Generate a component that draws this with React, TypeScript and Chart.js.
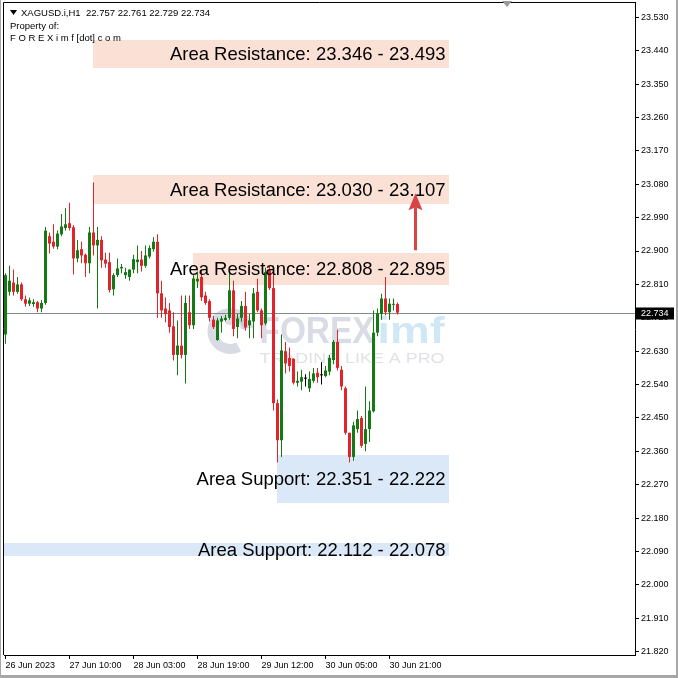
import { useEffect, useRef } from "react";
import { Chart, registerables } from "chart.js";

Chart.register(...registerables);

// ---- Data (XAGUSD.i, H1) ----
const opens = [
  22.675, 22.79, 22.815, 22.79, 22.81, 22.77, 22.758, 22.757, 22.762, 22.745,
  22.76, 22.94, 22.925, 22.912, 22.945, 22.962, 22.975, 22.964, 22.88, 22.905,
  22.89, 22.867, 22.95, 22.915, 22.93, 22.877, 22.87, 22.797, 22.835, 22.853,
  22.835, 22.83, 22.85, 22.87, 22.877, 22.86, 22.885, 22.905, 22.925, 22.786,
  22.745, 22.74, 22.697, 22.62, 22.645, 22.62, 22.735, 22.7, 22.818, 22.83,
  22.78, 22.765, 22.715, 22.66, 22.71, 22.714, 22.72, 22.794, 22.695, 22.72,
  22.752, 22.7, 22.71, 22.79, 22.74, 22.705, 22.848, 22.8, 22.49, 22.39,
  22.63, 22.612, 22.61, 22.545, 22.548, 22.556, 22.53, 22.55, 22.572, 22.565,
  22.563, 22.575, 22.606, 22.655, 22.58, 22.53, 22.41, 22.345, 22.42, 22.45,
  22.38, 22.42, 22.468, 22.68, 22.73, 22.772, 22.735, 22.755, 22.757,
];
const highs = [
  22.84, 22.86, 22.85, 22.83, 22.815, 22.78, 22.775, 22.77, 22.765, 22.768,
  22.965, 22.95, 22.972, 22.955, 23.0, 23.015, 23.03, 22.97, 22.93, 22.925,
  22.893, 22.965, 23.085, 22.965, 22.94, 22.895, 22.895, 22.84, 22.88, 22.865,
  22.855, 22.85, 22.89, 22.915, 22.9, 22.915, 22.915, 22.937, 22.945, 22.82,
  22.775, 22.76, 22.735, 22.713, 22.78, 22.78, 22.78, 22.835, 22.845, 22.85,
  22.79, 22.77, 22.725, 22.72, 22.725, 22.728, 22.848, 22.82, 22.73, 22.765,
  22.79, 22.73, 22.8, 22.825, 22.745, 22.855, 22.86, 22.84, 22.5, 22.675,
  22.655, 22.64, 22.61, 22.575, 22.58, 22.568, 22.575, 22.585, 22.585, 22.6,
  22.59, 22.62, 22.66, 22.688, 22.59, 22.535, 22.41, 22.44, 22.47, 22.455,
  22.535, 22.495, 22.74, 22.745, 22.785, 22.83, 22.772, 22.772, 22.761,
];
const lows = [
  22.65, 22.78, 22.78, 22.785, 22.765, 22.75, 22.752, 22.75, 22.735, 22.735,
  22.755, 22.893, 22.906, 22.905, 22.94, 22.955, 22.955, 22.837, 22.87, 22.867,
  22.83, 22.84, 22.888, 22.745, 22.855, 22.855, 22.788, 22.78, 22.83, 22.84,
  22.825, 22.82, 22.84, 22.84, 22.845, 22.855, 22.88, 22.898, 22.72, 22.72,
  22.708, 22.68, 22.605, 22.565, 22.61, 22.543, 22.69, 22.69, 22.8, 22.765,
  22.755, 22.71, 22.69, 22.658, 22.68, 22.71, 22.715, 22.67, 22.665, 22.71,
  22.685, 22.665, 22.665, 22.735, 22.665, 22.7, 22.795, 22.47, 22.33, 22.345,
  22.57, 22.575, 22.54, 22.535, 22.525, 22.535, 22.52, 22.545, 22.545, 22.54,
  22.56, 22.565, 22.595, 22.578, 22.525, 22.405, 22.33, 22.335, 22.41, 22.37,
  22.36, 22.385, 22.465, 22.67, 22.715, 22.727, 22.715, 22.74, 22.729,
];
const closes = [
  22.835, 22.82, 22.79, 22.81, 22.77, 22.758, 22.767, 22.762, 22.745, 22.76,
  22.955, 22.92, 22.912, 22.947, 22.966, 22.972, 22.962, 22.88, 22.902, 22.888,
  22.867, 22.95, 22.915, 22.93, 22.875, 22.866, 22.795, 22.835, 22.853, 22.857,
  22.843, 22.85, 22.878, 22.877, 22.86, 22.888, 22.908, 22.925, 22.786, 22.74,
  22.73, 22.695, 22.62, 22.645, 22.62, 22.76, 22.7, 22.826, 22.825, 22.775,
  22.76, 22.72, 22.695, 22.713, 22.718, 22.72, 22.794, 22.69, 22.718, 22.752,
  22.694, 22.713, 22.786, 22.74, 22.7, 22.843, 22.8, 22.49, 22.39, 22.632,
  22.597, 22.59, 22.545, 22.55, 22.56, 22.556, 22.555, 22.57, 22.56, 22.565,
  22.578, 22.612, 22.655, 22.585, 22.535, 22.41, 22.345, 22.43, 22.447, 22.375,
  22.42, 22.47, 22.68, 22.732, 22.772, 22.735, 22.758, 22.757, 22.734,
];

const xTickBars = [1, 17, 33, 49, 65, 81, 97];
const xTickLabels = [
  "26 Jun 2023", "27 Jun 10:00", "28 Jun 03:00", "28 Jun 19:00",
  "29 Jun 12:00", "30 Jun 05:00", "30 Jun 21:00",
];
const yTickValues = [
  21.82, 21.91, 22.0, 22.09, 22.18, 22.27, 22.36, 22.45, 22.54, 22.63,
  22.72, 22.81, 22.9, 22.99, 23.08, 23.17, 23.26, 23.35, 23.44, 23.53,
];

const zoneLabels = [
  "Area Resistance: 23.346 - 23.493",
  "Area Resistance: 23.030 - 23.107",
  "Area Resistance: 22.808 - 22.895",
  "Area Support: 22.351 - 22.222",
  "Area Support: 22.112 - 22.078",
];
const zoneKinds = ["R", "R", "R", "S", "S"];
const zoneTops = [23.468, 23.104, 22.895, 22.351, 22.112];
const zoneBottoms = [23.392, 23.028, 22.808, 22.222, 22.078];
const zoneStartBars = [23, 23, 48, 69, -20];
const zoneEndBars = [112, 112, 112, 112, 112];

const currentPrice = 22.734;
const arrowBar = 103.25;
const arrowFrom = 22.902;
const arrowTo = 23.056;

const headerTitle = "XAGUSD.i,H1  22.757 22.761 22.729 22.734";
const headerLines = ["Property of:", "F O R E X i m f [dot] c o m"];
const watermarkMain = "FOREX";
const watermarkAccent = "imf";
const watermarkTagline = "TRADING LIKE A PRO";

// ---- Styles ----
const BULL = "#157a15";
const BEAR = "#e2242a";
const DOJI = "#000000";
const RES_FILL = "#fbe1d5";
const SUP_FILL = "#dae8f8";
const AXIS_FONT = { family: "'Liberation Sans', Arial, sans-serif", size: 9 };

export default function App() {
  const ref = useRef<HTMLCanvasElement>(null);

  useEffect(() => {
    document.body.style.margin = "0";
    const canvas = ref.current;
    if (!canvas) return;

    const colors = opens.map((o, i) =>
      closes[i] > o ? BULL : closes[i] < o ? BEAR : DOJI
    );
    const wickData = opens.map((_, i) => ({ x: i + 1, y: [lows[i], highs[i]] }));
    const bodyData = opens.map((o, i) => ({ x: i + 1, y: [o, closes[i]] }));

    const overlay = {
      id: "overlay",
      beforeDraw(chart: any) {
        const ctx = chart.ctx;
        ctx.save();
        ctx.fillStyle = "#ffffff";
        ctx.fillRect(0, 0, chart.width, chart.height);
        ctx.restore();
      },
      beforeDatasetsDraw(chart: any) {
        const { ctx, chartArea: a, scales } = chart;
        const xs = scales.x;
        const ys = scales.y;
        ctx.save();
        ctx.beginPath();
        ctx.rect(a.left, a.top, a.right - a.left, a.bottom - a.top);
        ctx.clip();
        // zones
        zoneLabels.forEach((_, i) => {
          const x0 = Math.max(a.left, Math.round(xs.getPixelForValue(zoneStartBars[i]) - 0.5));
          const x1 = Math.round(xs.getPixelForValue(zoneEndBars[i]) - 0.5);
          const y0 = Math.round(ys.getPixelForValue(zoneTops[i]));
          const y1 = Math.round(ys.getPixelForValue(zoneBottoms[i]));
          ctx.fillStyle = zoneKinds[i] === "R" ? RES_FILL : SUP_FILL;
          ctx.fillRect(x0, y0, x1 - x0, y1 - y0);
        });
        // watermark
        const cx = (a.left + a.right) / 2;
        const cy = (a.top + a.bottom) / 2;
        const fit = (text: string, x: number, yb: number, w: number, font: string, color: string) => {
          ctx.font = font;
          const mw = ctx.measureText(text).width;
          ctx.save();
          ctx.translate(x, yb);
          ctx.scale(w / mw, 1);
          ctx.fillStyle = color;
          ctx.textAlign = "left";
          ctx.textBaseline = "alphabetic";
          ctx.fillText(text, 0, 0);
          ctx.restore();
        };
        ctx.save();
        ctx.strokeStyle = "rgba(170,176,196,0.45)";
        ctx.lineWidth = 10;
        ctx.beginPath();
        ctx.arc(cx - 89, cy + 2, 18, Math.PI * 0.35, Math.PI * 1.95);
        ctx.stroke();
        ctx.lineWidth = 6;
        ctx.beginPath();
        ctx.arc(cx - 84, cy - 2, 8, Math.PI * 1.1, Math.PI * 0.1);
        ctx.stroke();
        ctx.restore();
        fit(watermarkMain, cx - 60, cy + 14, 115, "bold 36px 'Liberation Sans', Arial, sans-serif", "rgba(165,172,192,0.42)");
        fit(watermarkAccent, cx + 58, cy + 14, 67, "bold 36px 'Liberation Sans', Arial, sans-serif", "rgba(150,205,235,0.45)");
        fit(watermarkTagline, cx - 60, cy + 34, 185, "14px 'Liberation Sans', Arial, sans-serif", "rgba(175,180,196,0.4)");
        // price line
        const py = Math.round(ys.getPixelForValue(currentPrice)) + 0.5;
        ctx.strokeStyle = "#7f8c8c";
        ctx.lineWidth = 1;
        ctx.beginPath();
        ctx.moveTo(a.left, py);
        ctx.lineTo(a.right, py);
        ctx.stroke();
        ctx.restore();
      },
      afterDatasetsDraw(chart: any) {
        const { ctx, scales } = chart;
        const xs = scales.x;
        const ys = scales.y;
        ctx.save();
        // zone texts
        ctx.font = "18.5px 'Liberation Sans', Arial, sans-serif";
        ctx.fillStyle = "#000";
        ctx.textAlign = "right";
        ctx.textBaseline = "middle";
        zoneLabels.forEach((label, i) => {
          const x1 = xs.getPixelForValue(zoneEndBars[i]) - 4;
          const yc = (ys.getPixelForValue(zoneTops[i]) + ys.getPixelForValue(zoneBottoms[i])) / 2 + 1;
          ctx.fillText(label, x1, yc);
        });
        // arrow
        const ax = Math.round(xs.getPixelForValue(arrowBar)) + 0.5;
        const yFrom = ys.getPixelForValue(arrowFrom);
        const yTip = ys.getPixelForValue(arrowTo);
        ctx.strokeStyle = "#d94545";
        ctx.fillStyle = "#d94545";
        ctx.lineWidth = 3;
        ctx.beginPath();
        ctx.moveTo(ax, yFrom);
        ctx.lineTo(ax, yTip + 14);
        ctx.stroke();
        ctx.beginPath();
        ctx.moveTo(ax, yTip);
        ctx.lineTo(ax - 7, yTip + 17);
        ctx.lineTo(ax, yTip + 14);
        ctx.lineTo(ax + 7, yTip + 17);
        ctx.closePath();
        ctx.fill();
        // header
        ctx.fillStyle = "#000";
        ctx.textAlign = "left";
        ctx.textBaseline = "middle";
        ctx.font = "9.5px 'Liberation Sans', Arial, sans-serif";
        ctx.beginPath();
        ctx.moveTo(10, 10);
        ctx.lineTo(17, 10);
        ctx.lineTo(13.5, 15);
        ctx.closePath();
        ctx.fill();
        ctx.fillText(headerTitle, 21, 13);
        ctx.fillText(headerLines[0], 10, 26);
        ctx.fillText(headerLines[1], 10, 38);
        ctx.restore();
      },
      afterDraw(chart: any) {
        const { ctx, chartArea: a, scales } = chart;
        const ys = scales.y;
        ctx.save();
        ctx.strokeStyle = "#000";
        ctx.lineWidth = 1;
        ctx.beginPath();
        ctx.moveTo(a.left - 0.5, a.bottom);
        ctx.lineTo(a.left - 0.5, a.top - 0.5);
        ctx.lineTo(a.right + 1, a.top - 0.5);
        ctx.stroke();
        // current price label
        const py = Math.round(ys.getPixelForValue(currentPrice)) + 0.5;
        ctx.fillStyle = "#000";
        ctx.fillRect(a.right + 1, py - 6, 38, 12);
        ctx.fillStyle = "#fff";
        ctx.font = "9px 'Liberation Sans', Arial, sans-serif";
        ctx.textAlign = "left";
        ctx.textBaseline = "middle";
        ctx.fillText(currentPrice.toFixed(3), a.right + 6, py);
        // chart shift marker
        ctx.fillStyle = "#9a9a9a";
        ctx.beginPath();
        ctx.moveTo(502, 1);
        ctx.lineTo(512, 1);
        ctx.lineTo(507, 7);
        ctx.closePath();
        ctx.fill();
        // window frame
        ctx.fillStyle = "#a7a7a7";
        ctx.fillRect(0, 675, 678, 3);
        ctx.fillRect(676, 0, 2, 678);
        ctx.fillRect(0, 0, 1, 678);
        ctx.restore();
      },
    };

    const zeroPad = (s: any) => {
      s.paddingTop = 0;
      s.paddingBottom = 0;
      s.paddingLeft = 0;
      s.paddingRight = 0;
    };

    const chart = new Chart(canvas, {
      type: "bar",
      data: {
        datasets: [
          {
            data: wickData as any,
            backgroundColor: colors,
            barThickness: 1,
            grouped: false,
            inflateAmount: 0,
            borderWidth: 0,
            order: 1,
          } as any,
          {
            data: bodyData as any,
            backgroundColor: colors,
            barThickness: 3,
            minBarLength: 1,
            grouped: false,
            inflateAmount: 0,
            borderWidth: 0,
            order: 0,
          } as any,
        ],
      },
      options: {
        responsive: false,
        maintainAspectRatio: false,
        devicePixelRatio: 1,
        animation: false,
        events: [],
        layout: { padding: { left: 4, top: 3, right: 0, bottom: 0 } },
        plugins: { legend: { display: false }, tooltip: { enabled: false } },
        scales: {
          x: {
            type: "linear",
            position: "bottom",
            min: 0.625,
            max: 158.375,
            offset: false,
            grid: {
              offset: false,
              display: true,
              drawOnChartArea: false,
              drawTicks: true,
              tickLength: 4,
              color: "#000",
            },
            border: { display: true, color: "#000" },
            ticks: {
              autoSkip: false,
              maxRotation: 0,
              minRotation: 0,
              align: "start",
              padding: 1,
              color: "#000",
              font: AXIS_FONT,
              callback: (_v: any, i: number) => xTickLabels[i],
            },
            afterBuildTicks: (s: any) => {
              s.ticks = xTickBars.map((v) => ({ value: v }));
            },
            afterFit: (s: any) => {
              s.height = 23;
              zeroPad(s);
            },
          },
          y: {
            type: "linear",
            position: "right",
            min: 21.8111,
            max: 23.5685,
            beginAtZero: false,
            grid: {
              display: true,
              drawOnChartArea: false,
              drawTicks: true,
              tickLength: 4,
              color: "#000",
            },
            border: { display: true, color: "#000" },
            ticks: {
              padding: 2,
              color: "#000",
              font: AXIS_FONT,
              callback: (v: any) => Number(v).toFixed(3),
            },
            afterBuildTicks: (s: any) => {
              s.ticks = yTickValues.map((v) => ({ value: v }));
            },
            afterFit: (s: any) => {
              s.width = 43;
              zeroPad(s);
            },
          },
        },
      } as any,
      plugins: [overlay],
    });

    return () => chart.destroy();
  }, []);

  return (
    <div style={{ width: 678, height: 678 }}>
      <canvas ref={ref} width={678} height={678} style={{ display: "block" }} />
    </div>
  );
}
